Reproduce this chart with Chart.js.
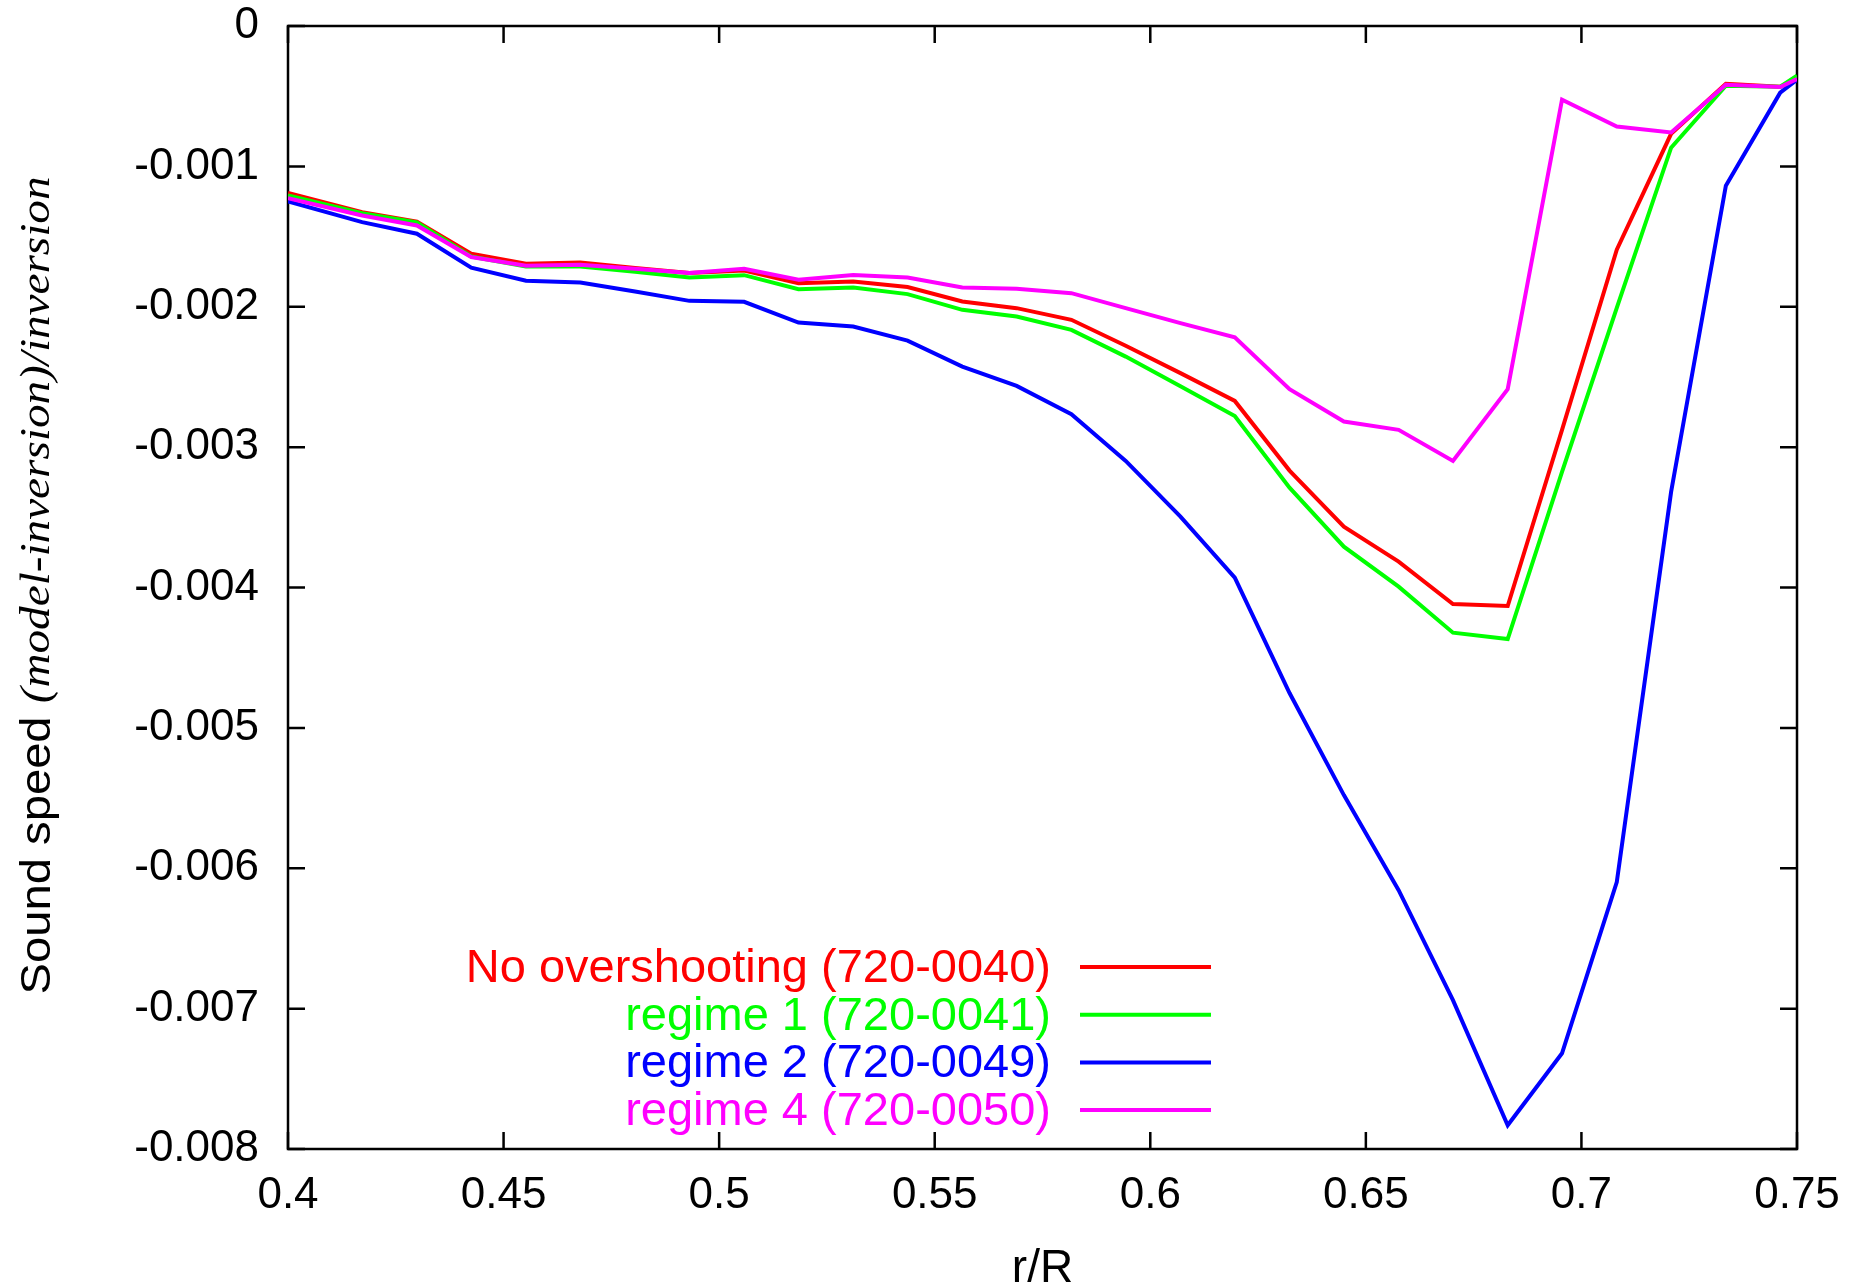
<!DOCTYPE html>
<html><head><meta charset="utf-8">
<script src="https://cdn.jsdelivr.net/npm/chart.js@4/dist/chart.umd.min.js"></script>
<style>html,body{margin:0;padding:0;background:#fff;overflow:hidden}</style>
</head><body>
<canvas id="c" width="1872" height="1288"></canvas>
<script>
// r/R sample positions
const radius = [0.4, 0.4172, 0.4299, 0.4425, 0.4552, 0.4678, 0.4805, 0.4931, 0.5058, 0.5184,
  0.5311, 0.5437, 0.5564, 0.5690, 0.5817, 0.5943, 0.6070, 0.6196, 0.6323, 0.6449,
  0.6576, 0.6702, 0.6829, 0.6955, 0.7082, 0.7208, 0.7335, 0.7461, 0.75];

const noOvershooting = [-0.001190, -0.001326, -0.001393, -0.001623, -0.001694, -0.001685, -0.001723, -0.001760, -0.001742, -0.001832,
  -0.001820, -0.001860, -0.001963, -0.002010, -0.002093, -0.002278, -0.002473, -0.002671, -0.003167, -0.003567,
  -0.003816, -0.004118, -0.004132, -0.002877, -0.001594, -0.000768, -0.000411, -0.000433, -0.000383];

const regime1 = [-0.001207, -0.001333, -0.001400, -0.001642, -0.001713, -0.001713, -0.001751, -0.001792, -0.001775, -0.001875,
  -0.001863, -0.001910, -0.002022, -0.002070, -0.002165, -0.002355, -0.002566, -0.002778, -0.003289, -0.003709,
  -0.003994, -0.004322, -0.004367, -0.003177, -0.002008, -0.000867, -0.000426, -0.000433, -0.000354];

const regime2 = [-0.001250, -0.001397, -0.001480, -0.001721, -0.001815, -0.001827, -0.001892, -0.001958, -0.001965, -0.002113,
  -0.002141, -0.002241, -0.002426, -0.002564, -0.002765, -0.003098, -0.003495, -0.003930, -0.004752, -0.005479,
  -0.006156, -0.006940, -0.007831, -0.007318, -0.006099, -0.003319, -0.001138, -0.000475, -0.000383];

const regime4 = [-0.001226, -0.001350, -0.001421, -0.001646, -0.001708, -0.001701, -0.001730, -0.001760, -0.001730, -0.001808,
  -0.001773, -0.001792, -0.001863, -0.001872, -0.001903, -0.002010, -0.002117, -0.002217, -0.002587, -0.002818,
  -0.002877, -0.003098, -0.002587, -0.000525, -0.000716, -0.000758, -0.000418, -0.000435, -0.000378];

const seriesLabels = ['No overshooting (720-0040)', 'regime 1 (720-0041)', 'regime 2 (720-0049)', 'regime 4 (720-0050)'];
const seriesValues = [noOvershooting, regime1, regime2, regime4];
const seriesColors = ['#ff0000', '#00ff00', '#0000ff', '#ff00ff'];

const xTitle = 'r/R';
const yTitleUpright = 'Sound speed ';
const yTitleItalic = '(model-inversion)/inversion';

const SANS = "'Liberation Sans', Arial, sans-serif";
const SERIF = "'Liberation Serif', 'Times New Roman', serif";

const datasets = seriesValues.map((vals, i) => ({
  label: seriesLabels[i],
  data: radius.map((r, k) => ({x: r, y: vals[k]})),
  borderColor: seriesColors[i],
  backgroundColor: seriesColors[i],
  borderWidth: 4,
  pointRadius: 0,
  tension: 0,
  fill: false,
  order: 3 - i
}));

const framePlugin = {
  id: 'frame',
  beforeDatasetsDraw(chart) {
    const {ctx, chartArea: a, scales} = chart;
    ctx.save();
    ctx.strokeStyle = '#000';
    ctx.lineWidth = 2.5;
    ctx.strokeRect(a.left, a.top, a.right - a.left, a.bottom - a.top);
    const tl = 17;
    ctx.beginPath();
    scales.x.ticks.forEach(t => {
      const px = scales.x.getPixelForValue(t.value);
      ctx.moveTo(px, a.bottom); ctx.lineTo(px, a.bottom - tl);
      ctx.moveTo(px, a.top); ctx.lineTo(px, a.top + tl);
    });
    scales.y.ticks.forEach(t => {
      const py = scales.y.getPixelForValue(t.value);
      ctx.moveTo(a.left, py); ctx.lineTo(a.left + tl, py);
      ctx.moveTo(a.right, py); ctx.lineTo(a.right - tl, py);
    });
    ctx.stroke();
    ctx.restore();
  },
  afterDraw(chart) {
    const {ctx, chartArea: a} = chart;
    ctx.save();
    // y-axis title, mixed fonts
    const f1 = '42px ' + SANS, f2 = 'italic 42px ' + SERIF;
    ctx.font = f1; const w1 = ctx.measureText(yTitleUpright).width;
    ctx.font = f2; const w2 = ctx.measureText(yTitleItalic).width;
    const target = 818;
    const s = target / (w1 + w2);
    const cy = (a.top + a.bottom) / 2 - 2;
    ctx.translate(38, cy);
    ctx.rotate(-Math.PI / 2);
    ctx.scale(s, 1);
    ctx.fillStyle = '#000';
    ctx.textBaseline = 'middle';
    ctx.textAlign = 'left';
    const start = -(w1 + w2) / 2;
    ctx.font = f1; ctx.fillText(yTitleUpright, start, 0);
    ctx.font = f2; ctx.fillText(yTitleItalic, start + w1, 0);
    ctx.restore();

    // legend
    ctx.save();
    ctx.font = '47px ' + SANS;
    ctx.textAlign = 'right';
    ctx.textBaseline = 'middle';
    chart.data.datasets.forEach((ds, i) => {
      const y = 967 + i * 47.7;
      ctx.fillStyle = ds.borderColor;
      ctx.fillText(ds.label, 1051, y + 2);
      ctx.strokeStyle = ds.borderColor;
      ctx.lineWidth = 4;
      ctx.beginPath();
      ctx.moveTo(1080, y); ctx.lineTo(1211, y);
      ctx.stroke();
    });
    ctx.restore();
  }
};

new Chart(document.getElementById('c'), {
  type: 'line',
  data: {datasets},
  options: {
    responsive: false,
    animation: false,
    devicePixelRatio: 1,
    layout: {padding: {left: 0, top: 26, right: 75, bottom: 0}},
    plugins: {legend: {display: false}, tooltip: {enabled: false}},
    scales: {
      x: {
        type: 'linear', min: 0.4, max: 0.75,
        grid: {display: false, drawTicks: false},
        border: {display: false},
        ticks: {stepSize: 0.05, color: '#000', padding: 20, font: {family: SANS, size: 44},
          callback: v => String(Math.round(v * 100) / 100)},
        title: {display: true, text: xTitle, color: '#000', font: {family: SANS, size: 46, lineHeight: 0.8}, padding: {top: 0, bottom: 0}},
        afterFit: s => { s.height = 139; }
      },
      y: {
        type: 'linear', min: -0.008, max: 0,
        grid: {display: false, drawTicks: false},
        border: {display: false},
        ticks: {stepSize: 0.001, color: '#000', padding: 29, font: {family: SANS, size: 44},
          callback: v => { const r = Math.round(v * 1000) / 1000; return r === 0 ? '0' : r.toFixed(3); }},
        afterFit: s => { s.width = 288; s.paddingTop = 0; s.paddingBottom = 0; }
      }
    }
  },
  plugins: [framePlugin]
});
</script>
</body></html>
